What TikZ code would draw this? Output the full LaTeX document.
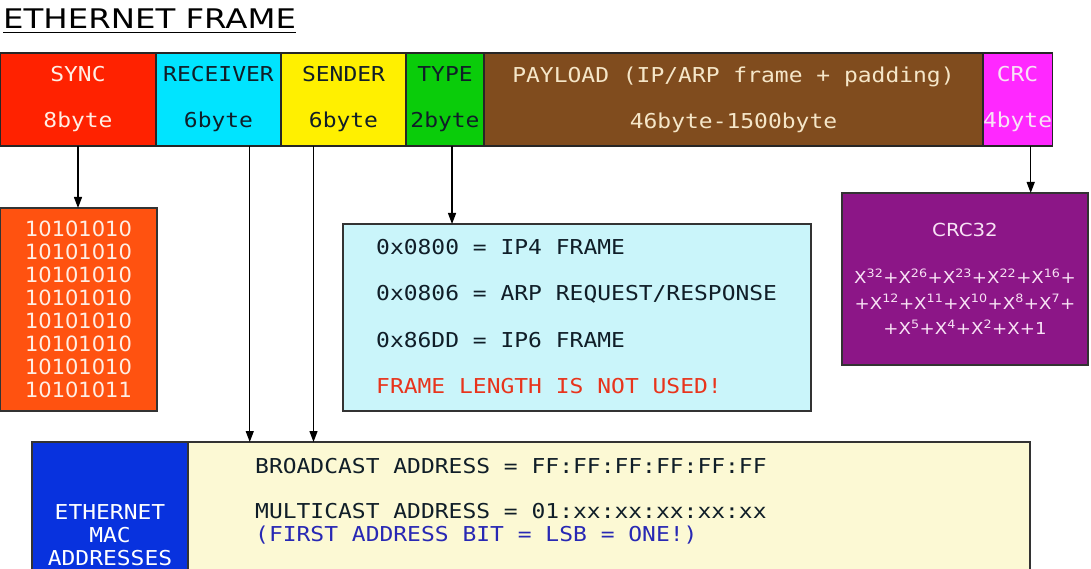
\documentclass[tikz,border=0pt]{standalone}
\usepackage{fontspec}
\setmainfont{DejaVu Sans}
\newfontfamily\framemono[FakeStretch=1.12]{DejaVu Sans Mono}
\newfontfamily\widesans[FakeStretch=1.1]{DejaVu Sans}
\newfontfamily\titlesans[FakeStretch=1.2]{DejaVu Sans}
\usepackage{tikz}
\usetikzlibrary{arrows.meta,positioning,calc}
\definecolor{syncRed}{RGB}{255,34,0}
\definecolor{recvCyan}{RGB}{0,228,255}
\definecolor{sendYellow}{RGB}{255,240,0}
\definecolor{typeGreen}{RGB}{10,204,10}
\definecolor{payBrown}{RGB}{128,76,30}
\definecolor{crcMagenta}{RGB}{255,40,255}
\definecolor{bitsOrange}{RGB}{255,82,16}
\definecolor{typeCyan}{RGB}{202,245,250}
\definecolor{crcPurple}{RGB}{140,22,135}
\definecolor{macBlue}{RGB}{8,50,222}
\definecolor{macYellow}{RGB}{252,249,212}
\definecolor{darkText}{RGB}{16,30,40}
\definecolor{lightText}{RGB}{255,238,228}
\definecolor{payText}{RGB}{245,230,200}
\definecolor{crcText}{RGB}{248,226,245}
\definecolor{warnRed}{RGB}{232,52,28}
\definecolor{macNote}{RGB}{40,40,180}
\newcommand{\crcterm}[1]{X\textsuperscript{#1}}

\begin{document}
\begin{tikzpicture}[x=1pt,y=-1pt,
    field/.style={draw=black!85, line width=1.2pt, anchor=north west,
      inner sep=0pt, outer sep=0pt, minimum height=93pt, align=center,
      font=\framemono\fontsize{20.5}{46}\selectfont},
    infobox/.style={draw=black!80, line width=1.2pt, anchor=north west,
      inner sep=0pt, outer sep=0pt},
    note/.style={anchor=west, inner sep=0pt, text=darkText, align=left},
    feed/.style={->, line width=1.3pt},
    >={Triangle[length=11pt,width=8pt]}
  ]
  \clip (0,0) rectangle (1091,569);
  % title
  \node[anchor=base west, inner sep=0pt, font=\titlesans\fontsize{27}{27}\selectfont] (title) at (3,28.5) {ETHERNET FRAME};
  \draw[line width=1.8pt] ([yshift=-4pt]title.base west) -- ([yshift=-4pt]title.base east);
  % frame fields
  \node[field, fill=syncRed, text=lightText, minimum width=156pt] (sync) at (0,53) {SYNC\\8byte};
  \node[field, fill=recvCyan, text=darkText, minimum width=125pt, right=0pt of sync] (recv) {RECEIVER\\6byte};
  \node[field, fill=sendYellow, text=darkText, minimum width=125pt, right=0pt of recv] (send) {SENDER\\6byte};
  \node[field, fill=typeGreen, text=darkText, minimum width=78pt, right=0pt of send] (type) {TYPE\\2byte};
  \node[field, fill=payBrown, text=payText, minimum width=499pt, right=0pt of type] (payload) {PAYLOAD (IP/ARP frame + padding)\\46byte-1500byte};
  \node[field, fill=crcMagenta, text=crcText, minimum width=65pt, right=0pt of payload] (crc) {CRC\\4byte};
  % detail boxes
  \node[infobox, fill=bitsOrange, text=lightText, minimum width=157pt, minimum height=203pt,
    align=center, font=\fontsize{21}{22.9}\selectfont] (syncbits) at (0,208)
    {10101010\\10101010\\10101010\\10101010\\10101010\\10101010\\10101010\\10101011};
  \node[infobox, fill=typeCyan, minimum width=468pt, minimum height=187pt] (typeinfo) at (343,224) {};
  \node[note, font=\framemono\fontsize{20.5}{46.3}\selectfont] (typecodes) at (376,316.5)
    {0x0800 = IP4 FRAME\\0x0806 = ARP REQUEST/RESPONSE\\0x86DD = IP6 FRAME\\{\color{warnRed}FRAME LENGTH IS NOT USED!}};
  \node[infobox, fill=crcPurple, text=crcText, minimum width=246pt, minimum height=172pt,
    align=center, font=\widesans\fontsize{16.5}{25.5}\selectfont] (crcinfo) at (842,193)
    {{\fontsize{18}{18}\selectfont CRC32}\\[21.5pt]
     \crcterm{32}+\crcterm{26}+\crcterm{23}+\crcterm{22}+\crcterm{16}+\\
     +\crcterm{12}+\crcterm{11}+\crcterm{10}+\crcterm{8}+\crcterm{7}+\\
     +\crcterm{5}+\crcterm{4}+\crcterm{2}+X+1};
  \node[infobox, fill=macBlue, text=white, minimum width=156pt, minimum height=186pt,
    align=center, font=\framemono\fontsize{20.5}{23}\selectfont] (macleft) at (32,442)
    {ETHERNET\\MAC\\ADDRESSES};
  \node[infobox, fill=macYellow, minimum width=842pt, minimum height=186pt, right=0pt of macleft] (macright) {};
  \node[note, font=\framemono\fontsize{20.5}{23}\selectfont] (bcast) at (255,466)
    {BROADCAST ADDRESS = FF:FF:FF:FF:FF:FF};
  \node[note, font=\framemono\fontsize{20.5}{23}\selectfont] (mcast) at (255,523.5)
    {MULTICAST ADDRESS = 01:xx:xx:xx:xx:xx\\{\color{macNote}(FIRST ADDRESS BIT = LSB = ONE!)}};
  % connectors
  \coordinate (recvtap) at ($(recv.south west)!0.75!(recv.south east)$);
  \coordinate (sendtap) at ($(send.south west)!0.26!(send.south east)$);
  \coordinate (typetap) at ($(type.south west)!0.59!(type.south east)$);
  \coordinate (crctap) at ($(crc.south west)!0.69!(crc.south east)$);
  \draw[feed] (sync.south) -- (sync.south |- syncbits.north);
  \draw[feed] (recvtap) -- (recvtap |- macright.north);
  \draw[feed] (sendtap) -- (sendtap |- macright.north);
  \draw[feed] (typetap) -- (typetap |- typeinfo.north);
  \draw[feed] (crctap) -- (crctap |- crcinfo.north);
\end{tikzpicture}
\end{document}
